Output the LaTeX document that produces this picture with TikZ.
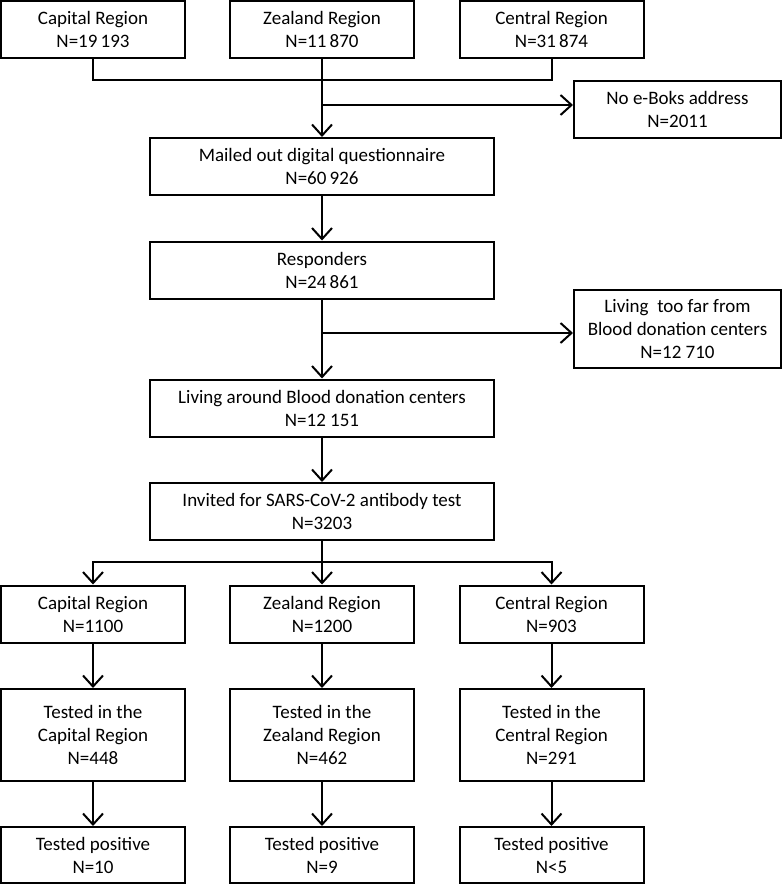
\documentclass[tikz,border=0pt]{standalone}
\usepackage{fontspec}
\setmainfont{Carlito}
\usetikzlibrary{arrows.meta, positioning, calc}
\tikzset{
  every picture/.style={line width=2pt, x=1pt, y=-1pt},
  box/.style={draw, align=center, inner sep=2pt, minimum width=#1, minimum height=57pt,
    font=\fontsize{19}{23}\selectfont},
  box/.default=184pt,
  arrow/.style={-{Straight Barb[length=11pt, width=20pt, line width=2pt]}},
}

\begin{document}
\begin{tikzpicture}
  \useasboundingbox (0,0) rectangle (782,885);
  % regions
  \node[box] (capTop) at (93,29.5) {Capital Region\\N=19\,193};
  \node[box] (zeaTop) at (322,29.5) {Zealand Region\\N=11\,870};
  \node[box] (cenTop) at (551.5,29.5) {Central Region\\N=31\,874};
  \coordinate (join) at (322,80);
  \draw (capTop.south) |- (join) -| (cenTop.south);
  % exclusions
  \node[box=207pt] (noeboks) at (677.5,109.5) {No e-Boks address\\N=2011};
  \node[box=344pt] (mailed) at (322,166.5) {Mailed out digital questionnaire\\N=60\,926};
  \node[box=344pt] (resp) at (322,270) {Responders\\N=24\,861};
  \node[box=207pt, minimum height=78pt] (toofar) at (677.5,329) {Living~~too far from\\Blood donation centers\\N=12 710};
  \node[box=344pt] (living) at (322,408) {Living around Blood donation centers\\N=12 151};
  \node[box=344pt] (invited) at (322,511.5) {Invited for SARS-CoV-2 antibody test\\N=3203};
  \draw[arrow] (zeaTop.south) -- (mailed.north);
  \coordinate (b1) at (322,105);
  \draw[arrow] (b1) -- (b1 -| noeboks.west);
  \draw[arrow] (mailed.south) -- (resp.north);
  \draw[arrow] (resp.south) -- (living.north);
  \coordinate (b2) at (322,333);
  \draw[arrow] (b2) -- (b2 -| toofar.west);
  \draw[arrow] (living.south) -- (invited.north);
  % per region
  \node[box] (capB) at (93,614) {Capital Region\\N=1100};
  \node[box] (zeaB) at (322,614) {Zealand Region\\N=1200};
  \node[box] (cenB) at (551.5,614) {Central Region\\N=903};
  \node[box, minimum height=92pt] (capT) at (93,735) {Tested in the\\Capital Region\\N=448};
  \node[box, minimum height=92pt] (zeaT) at (322,735) {Tested in the\\Zealand Region\\N=462};
  \node[box, minimum height=92pt] (cenT) at (551.5,735) {Tested in the\\Central Region\\N=291};
  \node[box, minimum height=56pt] (capP) at (93,855) {Tested positive\\N=10};
  \node[box, minimum height=56pt] (zeaP) at (322,855) {Tested positive\\N=9};
  \node[box, minimum height=56pt] (cenP) at (551.5,855) {Tested positive\\N<5};
  \coordinate (split) at (322,562);
  \draw (invited.south) -- (split);
  \draw[arrow] (split) -| (capB.north);
  \draw[arrow] (split) -| (cenB.north);
  \draw[arrow] (split) -- (zeaB.north);
  \draw[arrow] (capB) -- (capT);
  \draw[arrow] (zeaB) -- (zeaT);
  \draw[arrow] (cenB) -- (cenT);
  \draw[arrow] (capT) -- (capP);
  \draw[arrow] (zeaT) -- (zeaP);
  \draw[arrow] (cenT) -- (cenP);
\end{tikzpicture}
\end{document}
